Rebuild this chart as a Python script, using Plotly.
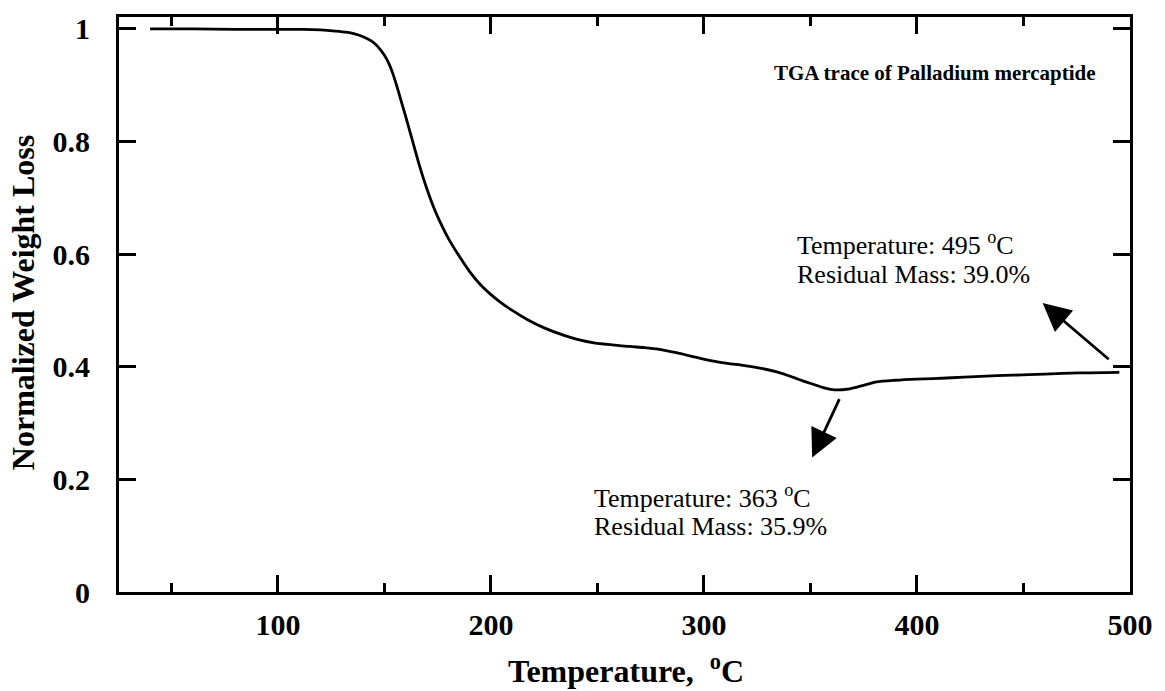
import plotly.graph_objects as go

# TGA trace: temperature (°C) vs. normalized residual weight
temperature = [40, 60, 80, 100, 112, 120, 127, 132, 136, 140, 144, 147, 150, 152, 154,
               156, 158, 160, 162, 164, 166, 168, 170, 173, 176, 180, 185, 190, 195,
               200, 205, 210, 217, 225, 234, 241, 249, 257, 265, 272, 279, 287, 296,
               303, 311, 319, 327, 335, 342, 347, 352, 356, 359.5, 363, 367, 372,
               377, 381, 390, 400, 414, 430, 445, 460, 476, 495]
weight = [1.000, 1.000, 0.999, 0.999, 0.999, 0.998, 0.996, 0.994, 0.991, 0.986, 0.978,
          0.968, 0.953, 0.939, 0.920, 0.896, 0.870, 0.844, 0.817, 0.790, 0.763, 0.738,
          0.715, 0.684, 0.658, 0.628, 0.597, 0.569, 0.546, 0.528, 0.513, 0.500, 0.484,
          0.469, 0.456, 0.448, 0.442, 0.439, 0.436, 0.434, 0.431, 0.425, 0.417, 0.411,
          0.406, 0.402, 0.397, 0.390, 0.381, 0.374, 0.368, 0.363, 0.360, 0.359, 0.360,
          0.364, 0.369, 0.373, 0.376, 0.378, 0.380, 0.383, 0.385, 0.387, 0.389, 0.390]

x_ticks = [100, 200, 300, 400, 500]
y_ticks = [0, 0.2, 0.4, 0.6, 0.8, 1]

# annotated points: (temperature, residual fraction)
min_point = (363, 0.359)
end_point = (495, 0.390)

SERIF = "Liberation Serif, Times New Roman, serif"

fig = go.Figure()
fig.add_trace(go.Scatter(
    x=temperature, y=weight, mode="lines",
    line=dict(color="black", width=2.8, shape="spline", smoothing=0.8),
    showlegend=False, hoverinfo="skip",
))

axis_common = dict(
    showline=True, linecolor="black", linewidth=3, mirror="allticks",
    ticks="inside", tickcolor="black", tickwidth=2.5, ticklen=17,
    showgrid=False, zeroline=False,
    tickfont=dict(family=SERIF, size=30, color="black", weight="bold"),
)

fig.update_xaxes(
    range=[25.4, 500], tickvals=x_ticks, ticklabelstandoff=4,
    minor=dict(dtick=50, tick0=0, ticks="inside", ticklen=9, tickwidth=2.5,
               tickcolor="black", showgrid=False),
    **axis_common,
)
fig.update_yaxes(
    range=[0, 1.021], tickvals=y_ticks, ticklabelstandoff=20,
    **axis_common,
)

annotations = [
    # axis titles
    dict(text="Normalized Weight Loss", xref="paper", yref="paper",
         x=-0.095, y=0.504, xanchor="center", yanchor="middle", textangle=-90,
         showarrow=False, font=dict(family=SERIF, size=32, color="black", weight="bold")),
    dict(text="Temperature,&nbsp; <sup>o</sup>C", xref="paper", yref="paper",
         x=0.501, y=-0.134, xanchor="center", yanchor="middle",
         showarrow=False, font=dict(family=SERIF, size=32, color="black", weight="bold")),
    # panel label
    dict(text="TGA trace of Palladium mercaptide", xref="paper", yref="paper",
         x=0.968, y=0.903, xanchor="right", yanchor="middle", showarrow=False,
         font=dict(family=SERIF, size=21, color="black", weight="bold")),
    # labels for the two marked points
    dict(text=f"Temperature: {min_point[0]} <sup>o</sup>C", xref="x", yref="y",
         x=247.3, y=0.170, xanchor="left", yanchor="middle", showarrow=False,
         font=dict(family=SERIF, size=26, color="black")),
    dict(text=f"Residual Mass: {min_point[1] * 100:.1f}%", xref="x", yref="y",
         x=247.3, y=0.117, xanchor="left", yanchor="middle", showarrow=False,
         font=dict(family=SERIF, size=26, color="black")),
    dict(text=f"Temperature: {end_point[0]} <sup>o</sup>C", xref="x", yref="y",
         x=342.9, y=0.618, xanchor="left", yanchor="middle", showarrow=False,
         font=dict(family=SERIF, size=26, color="black")),
    dict(text=f"Residual Mass: {end_point[1] * 100:.1f}%", xref="x", yref="y",
         x=342.9, y=0.564, xanchor="left", yanchor="middle", showarrow=False,
         font=dict(family=SERIF, size=26, color="black")),
    # arrows pointing from the curve toward the labels
    dict(x=350.8, y=0.239, ax=363.9, ay=0.345, xref="x", yref="y", axref="x", ayref="y",
         text="", showarrow=True, arrowhead=2, arrowsize=2.0, arrowwidth=2.8,
         arrowcolor="black"),
    dict(x=459.0, y=0.513, ax=490.7, ay=0.411, xref="x", yref="y", axref="x", ayref="y",
         text="", showarrow=True, arrowhead=2, arrowsize=2.0, arrowwidth=2.8,
         arrowcolor="black"),
]

fig.update_layout(
    width=1165, height=691,
    margin=dict(l=119, r=26, t=15, b=99),
    paper_bgcolor="white", plot_bgcolor="white",
    annotations=annotations,
    showlegend=False,
)

fig.write_html("out.html")
